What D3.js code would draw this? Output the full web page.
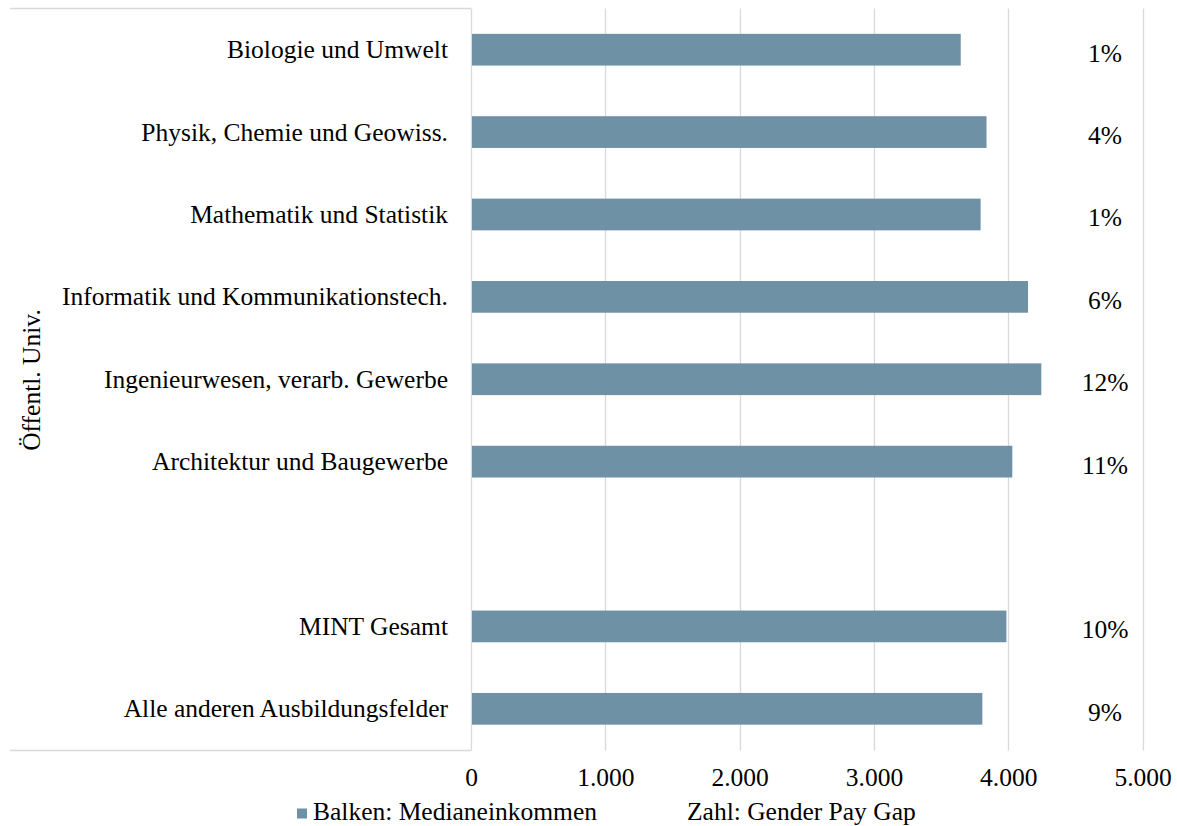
<!DOCTYPE html>
<html><head><meta charset="utf-8">
<script src="https://cdn.jsdelivr.net/npm/d3@7"></script>
<style>
html,body{margin:0;padding:0;background:#fff;}
svg{display:block;}
text{font-family:"Liberation Serif","Times New Roman",serif;fill:#000;}
</style></head>
<body><svg id="c" width="1177" height="826"></svg>
<script>
const categories = ["Biologie und Umwelt","Physik, Chemie und Geowiss.","Mathematik und Statistik","Informatik und Kommunikationstech.","Ingenieurwesen, verarb. Gewerbe","Architektur und Baugewerbe","","MINT Gesamt","Alle anderen Ausbildungsfelder"];
const medianIncome = [3646,3838,3794,4147,4246,4030,null,3986,3807];
const payGapLabels = ["1%","4%","1%","6%","12%","11%","","10%","9%"];
const xTicks = [0,1000,2000,3000,4000,5000];
const groupLabel = "Öffentl. Univ.";
const legendItems = ["Balken: Medianeinkommen","Zahl: Gender Pay Gap"];

const svg = d3.select("#c");
const fs = 25.5;
const barColor = "#6e91a5";
const gridColor = "#d9d9d9";

const x = d3.scaleLinear().domain([0,5000]).range([471,1142.6]);
const y = d3.scaleBand().domain(d3.range(categories.length)).range([8.5,750]).paddingInner(0.615).paddingOuter(0.3075);

// gridlines
svg.append("g").selectAll("line").data(xTicks.slice(1)).join("line")
  .attr("x1",d=>Math.round(x(d))+0.5).attr("x2",d=>Math.round(x(d))+0.5)
  .attr("y1",8.5).attr("y2",750.5).attr("stroke",gridColor).attr("stroke-width",1.3);

// category axis box lines
svg.append("line").attr("x1",10).attr("x2",471).attr("y1",8.5).attr("y2",8.5).attr("stroke",gridColor).attr("stroke-width",1.3);
svg.append("line").attr("x1",10).attr("x2",471).attr("y1",750.5).attr("y2",750.5).attr("stroke",gridColor).attr("stroke-width",1.3);
svg.append("line").attr("x1",471.5).attr("x2",471.5).attr("y1",8.5).attr("y2",750.5).attr("stroke",gridColor).attr("stroke-width",1.3);

// bars
svg.append("g").selectAll("rect").data(medianIncome.map((v,i)=>({v,i})).filter(d=>d.v!=null)).join("rect")
  .attr("x",x(0)+1).attr("y",d=>y(d.i)).attr("width",d=>x(d.v)-x(0)-1).attr("height",y.bandwidth())
  .attr("fill",barColor);

// x-axis tick labels
const xAxis = d3.axisBottom(x).tickValues(xTicks).tickSize(0).tickPadding(0)
  .tickFormat(d=>d3.format(",")(d).replace(/,/g,"."));
const gx = svg.append("g").attr("transform","translate(0,786)").call(xAxis);
gx.select(".domain").remove();
gx.selectAll("text").attr("font-size",fs).attr("font-family","Liberation Serif").attr("fill","#000").attr("dy",0).attr("y",0);

// category labels
svg.append("g").selectAll("text").data(categories).join("text")
  .attr("x",448).attr("y",(d,i)=>y(i)+y.bandwidth()/2+8.5)
  .attr("text-anchor","end").attr("font-size",fs).text(d=>d);

// pay gap labels
svg.append("g").selectAll("text").data(payGapLabels).join("text")
  .attr("x",1105).attr("y",(d,i)=>y(i)+y.bandwidth()/2+12)
  .attr("text-anchor","middle").attr("font-size",fs).text(d=>d);

// group label
svg.append("text").attr("transform","translate(40,380) rotate(-90)")
  .attr("text-anchor","middle").attr("font-size",fs).text(groupLabel);

// legend
svg.append("rect").attr("x",297).attr("y",808.5).attr("width",10).attr("height",10).attr("fill",barColor);
svg.append("text").attr("x",313).attr("y",820).attr("font-size",fs).text(legendItems[0]);
svg.append("text").attr("x",687).attr("y",820).attr("font-size",fs).text(legendItems[1]);
</script></body></html>
